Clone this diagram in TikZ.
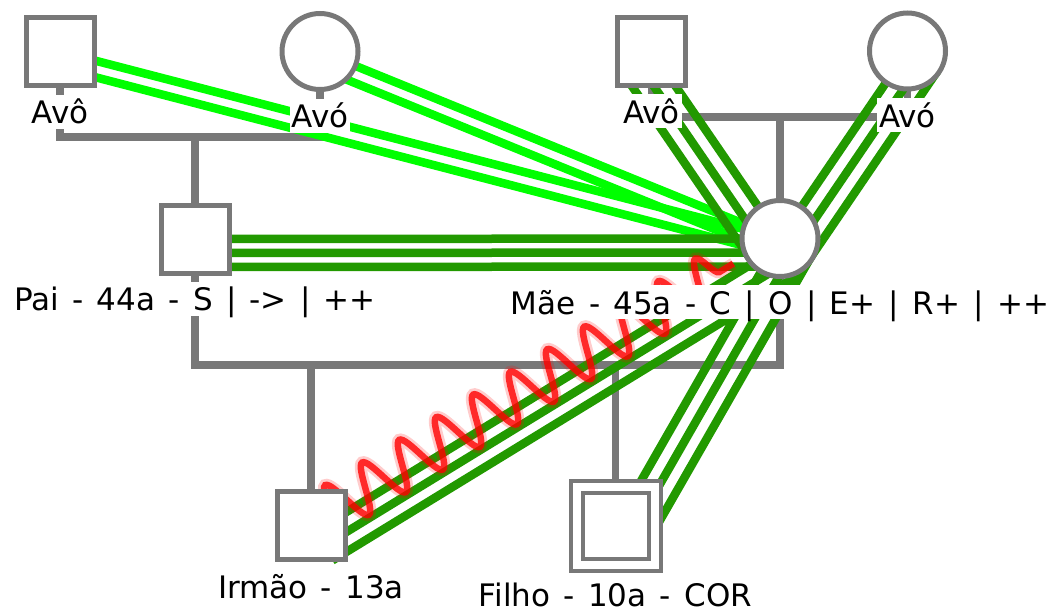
\documentclass[tikz,border=0pt]{standalone}
\usepackage{fontspec}
\setmainfont{DejaVu Sans}[WordSpace=1.35]
\usetikzlibrary{positioning,calc,backgrounds,decorations.pathmorphing}
\definecolor{famgray}{RGB}{120,120,120}
\definecolor{bondgreen}{RGB}{34,153,0}
\definecolor{closegreen}{RGB}{0,255,0}
% parallel relation lines, offsets measured from the centre line
\newcommand\bondlines[4]{%
  \foreach \off in {#4}
    \draw[#1] ($(#2.center)!\off!-90:(#3.center)$) -- ($(#3.center)!\off!90:(#2.center)$);}
\begin{document}
\begin{tikzpicture}[x=1pt,y=-1pt,
  person/.style={draw=famgray,line width=5pt,fill=white,inner sep=0pt},
  male/.style={person,rectangle,minimum size=68pt},
  female/.style={person,circle,minimum size=76pt},
  lbl/.style={fill=white,inner xsep=2pt,inner ysep=2pt,text height=27pt,text depth=3pt,
    font=\fontsize{31}{35}\selectfont},
  famline/.style={draw=famgray,line width=7.5pt},
  close/.style={closegreen,line width=8.5pt},
  bond/.style={bondgreen,line width=8.5pt},
  hostile/.style={red,line width=6.5pt,opacity=.8,decorate,
    decoration={snake,amplitude=24pt,segment length=43.4pt}},
  hostileglow/.style={hostile,line width=12pt,opacity=.2}]
  \useasboundingbox (0,0) rectangle (1054,613);

  \node[male] (avoP) at (60,51.5) {};
  \node[female] (avoPa) at (320,51.5) {};
  \node[male] (avoM) at (651.5,51) {};
  \node[female] (avoMa) at (907.5,51) {};
  \node[male] (pai) at (195,239) {};
  \node[female] (mae) at (780,238.5) {};
  \node[male] (irmao) at (311,525.5) {};
  \node[male,double=white,double distance=8pt,line width=4pt,minimum size=78pt] (filho) at (615.5,525.5) {};

  \node[lbl,below=6.5pt of avoP] (lavoP) {Avô};
  \node[lbl,below=6.5pt of avoPa] (lavoPa) {Avó};
  \node[lbl,below=6.5pt of avoM] (lavoM) {Avô};
  \node[lbl,below=6.5pt of avoMa] (lavoMa) {Avó};
  \node[lbl,below=6pt of pai] (lpai) {Pai - 44a - S | -> | ++};
  \node[lbl,below=6pt of mae] (lmae) {Mãe - 45a - C | O | E+ | R+ | ++};
  \node[lbl,below=7pt of irmao] (lirmao) {Irmão - 13a};
  \node[lbl,below=11pt of filho] (lfilho) {Filho - 10a - COR};

  \begin{pgfonlayer}{background}
    \coordinate (mpat) at (195,137);
    \coordinate (mmat) at (780,117);
    \coordinate (mpar) at (460,365);
    \draw[famline] (avoP.center) |- (mpat) -| (avoPa.center);
    \draw[famline] (mpat) -- (pai.center);
    \draw[famline] (avoM.center) |- (mmat) -| (avoMa.center);
    \draw[famline] (mmat) -- (mae.center);
    \draw[famline] (pai.center) |- (mpar) -| (mae.center);
    \draw[famline] (irmao.center) |- (mpar);
    \draw[famline] (filho.center) |- (mpar);

    \bondlines{close}{avoP}{mae}{0pt,16pt}
    \bondlines{close}{avoPa}{mae}{0pt,16pt}
    \bondlines{bond}{avoM}{mae}{0pt,18pt,36pt}
    \bondlines{bond}{mae}{avoMa}{0pt,18pt,36pt}
    \bondlines{bond}{pai}{mae}{0pt,14pt,28pt}
    \bondlines{bond}{irmao}{mae}{7pt,24pt,41pt}
    \bondlines{bond}{filho}{mae}{0pt,18pt,36pt}

    \coordinate (w1) at ($($(irmao.center)!19.6pt!(mae.center)$)!3pt!90:(mae.center)$);
    \coordinate (w2) at ($($(irmao.center)!497pt!(mae.center)$)!3pt!-90:(irmao.center)$);
    \draw[hostileglow] (w1) -- (w2);
    \draw[hostile] (w1) -- (w2);
  \end{pgfonlayer}
\end{tikzpicture}
\end{document}
